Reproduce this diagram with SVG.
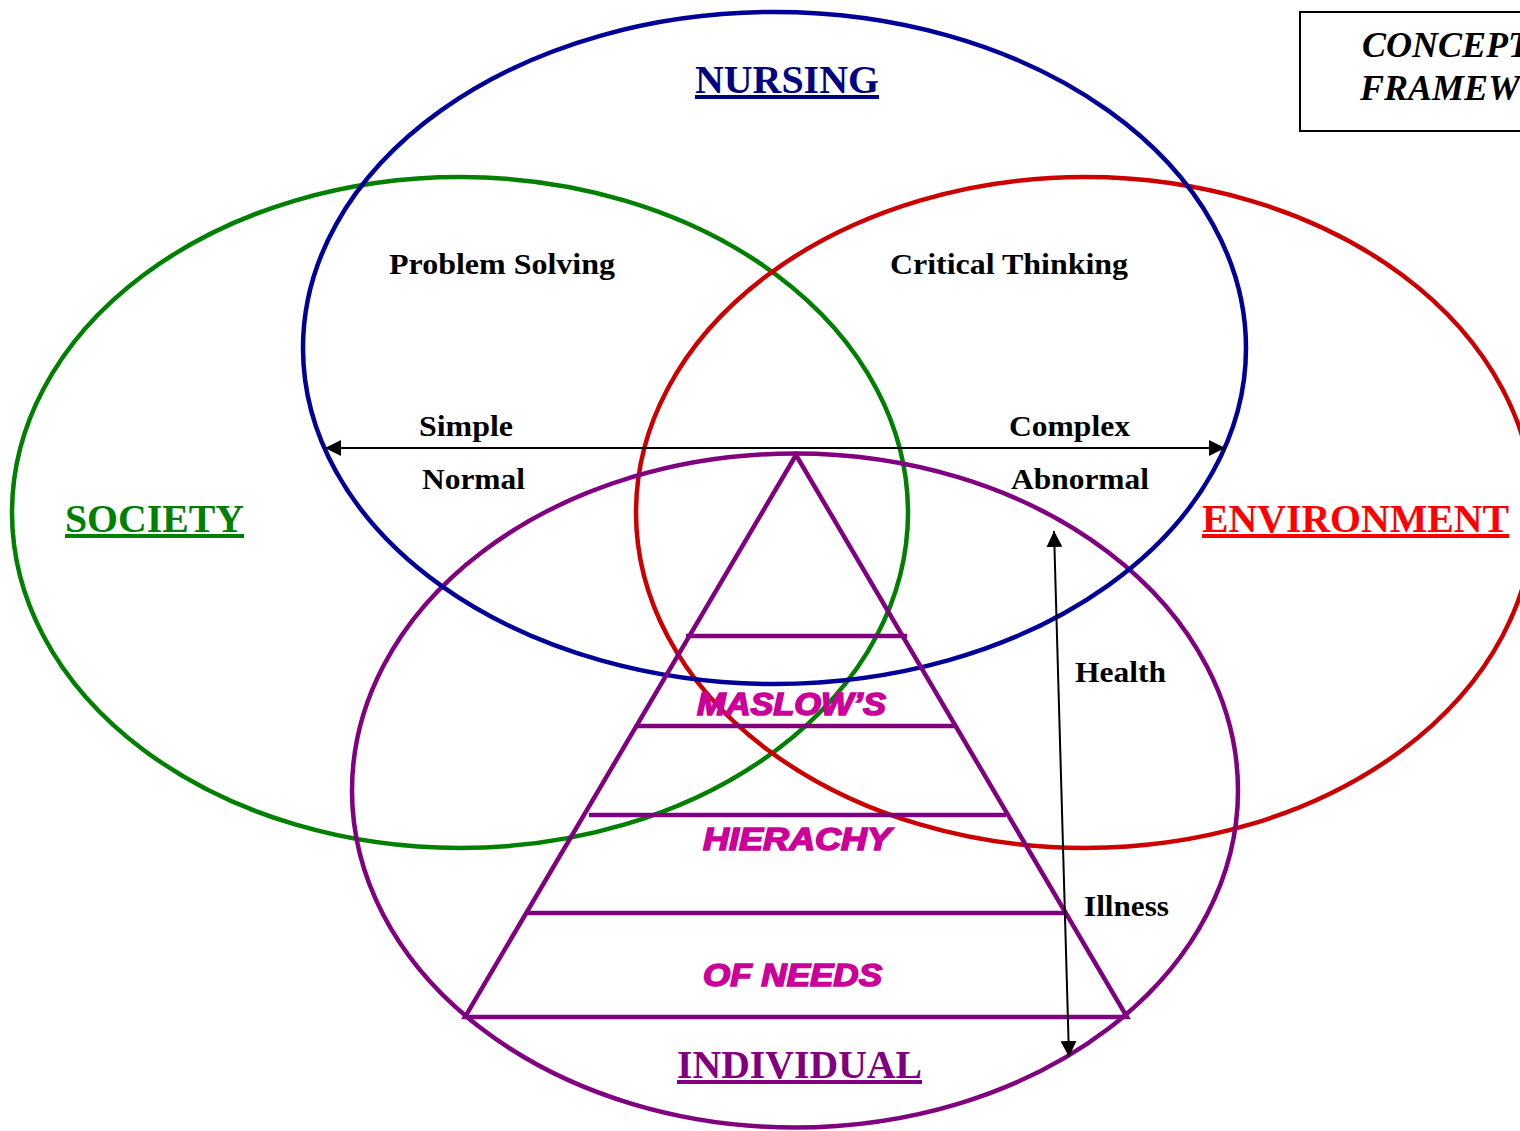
<svg xmlns="http://www.w3.org/2000/svg" width="1520" height="1131" viewBox="0 0 1520 1131">
<defs>
<style>
.t{font-family:"Liberation Serif","Times New Roman",serif;font-weight:bold;fill:#000}
.big{font-size:40px;text-decoration:underline}
.lab{font-size:30px}
.py{font-family:"Liberation Sans",Arial,sans-serif;font-weight:900;font-style:italic;font-size:31px;fill:#CC0099;stroke:#CC0099;stroke-width:1.6}
.ell{fill:none;stroke-width:4.5}
.pl{stroke:#800080;stroke-width:4.5;fill:none}
.ar{stroke:#000;stroke-width:2;fill:none}
</style>
<marker id="ah" viewBox="0 0 10 10" refX="10" refY="5" markerWidth="16" markerHeight="16" markerUnits="userSpaceOnUse" orient="auto-start-reverse">
<path d="M0,0 L10,5 L0,10 z" fill="#000"/>
</marker>
</defs>
<rect width="1520" height="1131" fill="#fff"/>
<g id="title">
<rect x="1300" y="12" width="240" height="119" fill="none" stroke="#000" stroke-width="2"/>
<text class="t" x="1362" y="57" font-size="36" font-style="italic">CONCEPTUAL</text>
<text class="t" x="1360" y="100" font-size="36" font-style="italic">FRAMEWORK</text>
</g>
<g id="society"><ellipse class="ell" cx="460" cy="512.5" rx="448" ry="335.5" stroke="#008000"/></g>
<g id="environment"><ellipse class="ell" cx="1085" cy="512.5" rx="449" ry="335.5" stroke="#CC0000"/></g>
<g id="individual"><ellipse class="ell" cx="795" cy="790.5" rx="443" ry="337" stroke="#800080"/></g>
<g id="nursing"><ellipse class="ell" cx="774.5" cy="348" rx="471.5" ry="336" stroke="#000099"/></g>
<g id="pyramid">
<path class="pl" d="M796,455 L465,1017 L1127,1017 Z"/>
<line class="pl" x1="686" y1="636" x2="907" y2="636"/>
<line class="pl" x1="636" y1="726" x2="955" y2="726"/>
<line class="pl" x1="589" y1="815" x2="1006" y2="815"/>
<line class="pl" x1="526" y1="913" x2="1066" y2="913"/>
<text class="py" x="697" y="715" textLength="189" lengthAdjust="spacingAndGlyphs">MASLOW’S</text>
<text class="py" x="703" y="850" textLength="188" lengthAdjust="spacingAndGlyphs">HIERACHY</text>
<text class="py" x="703" y="986" textLength="179" lengthAdjust="spacingAndGlyphs">OF NEEDS</text>
</g>
<g id="connectors">
<line class="ar" x1="325" y1="448" x2="1225" y2="448" marker-end="url(#ah)" marker-start="url(#ah)"/>
<line class="ar" x1="1054" y1="531" x2="1069" y2="1057" marker-end="url(#ah)" marker-start="url(#ah)"/>
</g>
<g id="labels">
<text class="t big" x="695" y="93" style="fill:#000080" textLength="184" lengthAdjust="spacingAndGlyphs">NURSING</text>
<text class="t big" x="65" y="532" style="fill:#008000" textLength="179" lengthAdjust="spacingAndGlyphs">SOCIETY</text>
<text class="t big" x="1202" y="532" style="fill:#FF0000" textLength="307" lengthAdjust="spacingAndGlyphs">ENVIRONMENT</text>
<text class="t big" x="677" y="1078" style="fill:#800080" textLength="245" lengthAdjust="spacingAndGlyphs">INDIVIDUAL</text>
<text class="t lab" x="389" y="274" textLength="226" lengthAdjust="spacingAndGlyphs">Problem Solving</text>
<text class="t lab" x="890" y="274" textLength="238" lengthAdjust="spacingAndGlyphs">Critical Thinking</text>
<text class="t lab" x="419" y="436" textLength="94" lengthAdjust="spacingAndGlyphs">Simple</text>
<text class="t lab" x="1009" y="436" textLength="121" lengthAdjust="spacingAndGlyphs">Complex</text>
<text class="t lab" x="422" y="489" textLength="103" lengthAdjust="spacingAndGlyphs">Normal</text>
<text class="t lab" x="1011" y="489" textLength="138" lengthAdjust="spacingAndGlyphs">Abnormal</text>
<text class="t lab" x="1075" y="682" textLength="91" lengthAdjust="spacingAndGlyphs">Health</text>
<text class="t lab" x="1084" y="916" textLength="85" lengthAdjust="spacingAndGlyphs">Illness</text>
</g>
</svg>
